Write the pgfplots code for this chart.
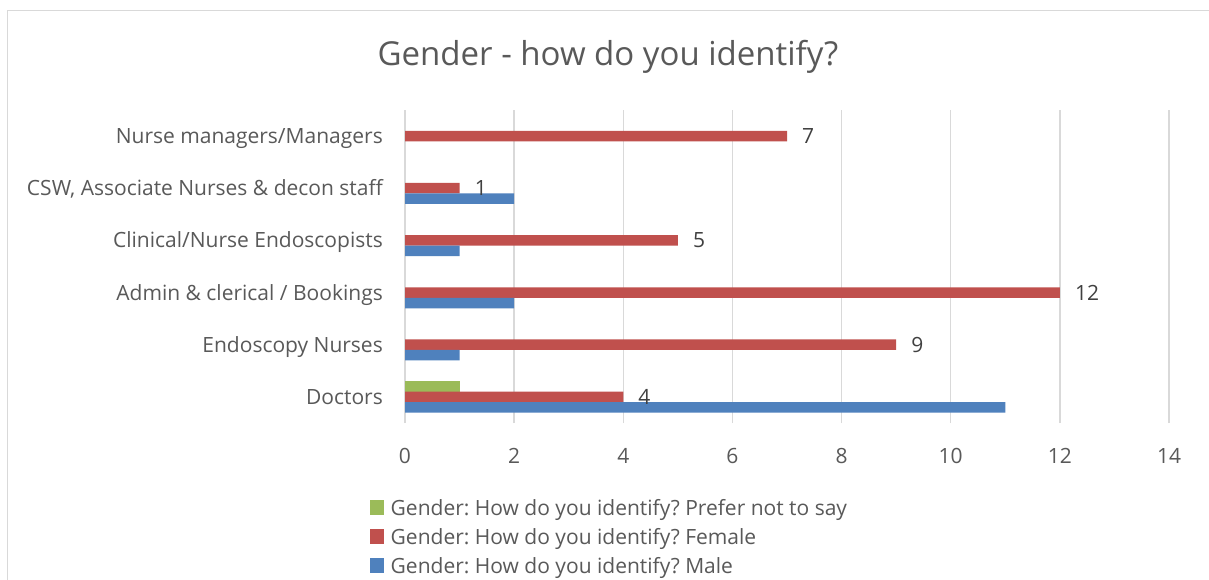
\documentclass[border=0pt]{standalone}
\usepackage{fontspec}
\setmainfont{Open Sans}
\usepackage{pgfplots}
\pgfplotsset{compat=1.18}
\definecolor{cblue}{HTML}{4F81BD}
\definecolor{cred}{HTML}{C0504D}
\definecolor{cgreen}{HTML}{9BBB59}
\definecolor{tgray}{HTML}{595959}
\definecolor{lgray}{HTML}{404040}
\definecolor{gridc}{HTML}{D9D9D9}
\newcommand\lbl{\fontsize{21bp}{25bp}\selectfont}
\frenchspacing
\begin{document}
\begin{tikzpicture}
\useasboundingbox (0,0) rectangle (1209bp,580bp);
\fill[white] (0,0) rectangle (1209bp,580bp);
\draw[gridc, line width=1.3bp] (7.5bp,-10bp) -- (7.5bp,569.5bp) -- (1220bp,569.5bp);
\node[anchor=base, text=tgray, font=\fontsize{33bp}{38bp}\selectfont, inner sep=0pt] at (608bp,514bp) {Gender - how do you identify?};
\begin{axis}[
  at={(405bp,157bp)}, anchor=south west,
  scale only axis, width=764bp, height=313bp,
  xbar, bar width=10.5bp,
  xmin=0, xmax=14, ymin=-0.5, ymax=5.5,
  xtick={0,2,...,14}, ytick={0,...,5},
  yticklabels={Doctors, Endoscopy Nurses, Admin \& clerical / Bookings, Clinical/Nurse Endoscopists, {CSW, Associate Nurses \& decon staff}, Nurse managers/Managers},
  xmajorgrids, major grid style={gridc, line width=1.3bp},
  axis line style={draw=none}, major tick length=0pt,
  tick label style={font=\lbl, text=tgray, inner sep=0pt},
  /pgf/number format/assume math mode=true,
  xticklabel style={yshift=-25bp},
  yticklabel style={xshift=-22bp, text height=15bp, text depth=0pt},
  legend style={at={(axis description cs:-0.0458,-0.246)}, anchor=north west, draw=none, fill=none, inner sep=0pt, outer sep=0pt, row sep=10bp, column sep=6.7bp, nodes={inner sep=0pt, text height=15bp, text depth=4bp, font=\lbl, text=tgray}},
  legend cell align=left,
  legend image code/.code={\fill[#1] (0bp,-5bp) rectangle (14bp,9bp);},
]
\addplot[fill=cgreen, draw=none, bar shift=10.5bp] coordinates {(1,0)};
\addlegendentry{Gender: How do you identify? Prefer not to say}
\addplot[fill=cred, draw=none, bar shift=0bp, nodes near coords, nodes near coords style={font=\lbl, text=lgray, anchor=west, inner sep=0pt, xshift=15bp}] coordinates {(4,0) (9,1) (12,2) (5,3) (1,4) (7,5)};
\addlegendentry{Gender: How do you identify? Female}
\addplot[fill=cblue, draw=none, bar shift=-10.5bp] coordinates {(11,0) (1,1) (2,2) (1,3) (2,4)};
\addlegendentry{Gender: How do you identify? Male}
\end{axis}
\end{tikzpicture}
\end{document}
